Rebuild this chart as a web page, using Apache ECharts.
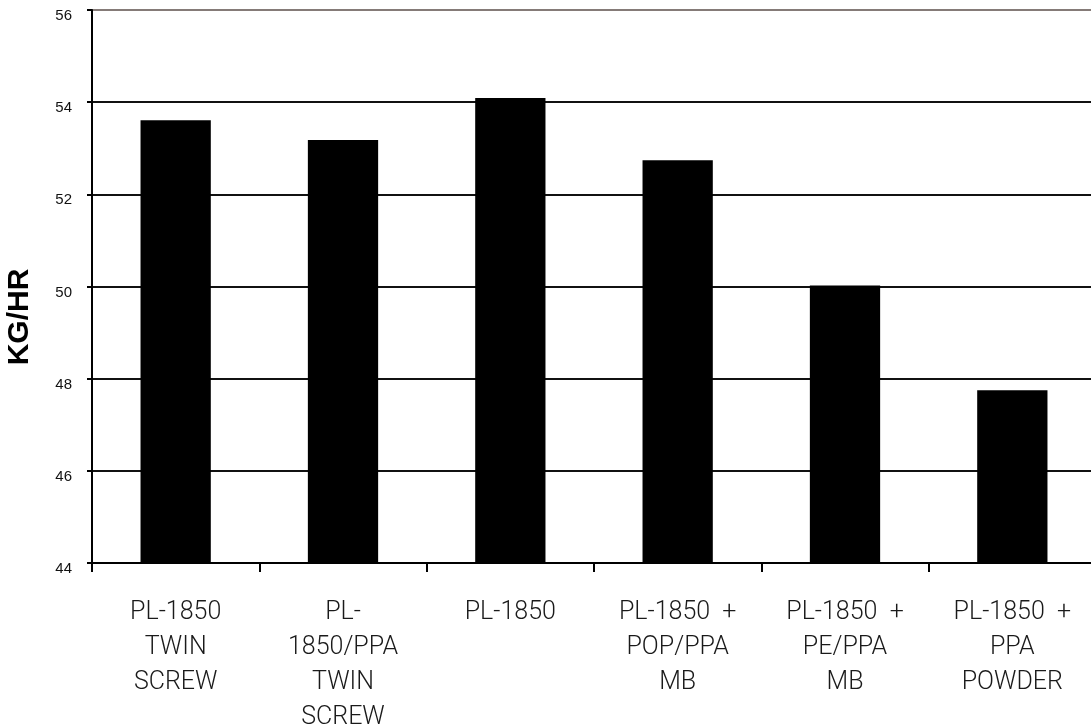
<!DOCTYPE html>
<html>
<head>
<meta charset="utf-8">
<script src="https://cdn.jsdelivr.net/npm/echarts@6/dist/echarts.min.js"></script>
<style>
  html, body { margin: 0; padding: 0; background: #fff; }
  #chart { width: 1091px; height: 728px; }
</style>
</head>
<body>
<div id="chart"></div>
<script>
// 类别 / 数值
var categories = [
    'PL-1850\nTWIN\nSCREW',
    'PL-\n1850/PPA\nTWIN\nSCREW',
    'PL-1850',
    'PL-1850  +\nPOP/PPA\nMB',
    'PL-1850  +\nPE/PPA\nMB',
    'PL-1850  +\nPPA\nPOWDER'
];
var kgPerHr = [53.61, 53.18, 54.09, 52.74, 50.02, 47.75];
var yMin = 44, yMax = 56, yStep = 2;

var chart = echarts.init(document.getElementById('chart'));

var option = {
    animation: false,
    backgroundColor: '#fff',
    grid: {
        left: 92,
        right: -5,
        top: 10,
        bottom: 165,
        outerBoundsMode: 'none'
    },
    graphic: [{
        type: 'text',
        x: 20,
        y: 317,
        rotation: Math.PI / 2,
        style: {
            text: 'KG/HR',
            font: 'bold 30px "Liberation Sans", Arial, sans-serif',
            fill: '#000',
            align: 'center',
            verticalAlign: 'middle'
        }
    }],
    xAxis: {
        type: 'category',
        data: categories,
        axisLine: { lineStyle: { color: '#000', width: 2 } },
        axisTick: { show: true, length: 9, lineStyle: { color: '#000', width: 2 } },
        axisLabel: {
            interval: 0,
            margin: 32,
            color: '#1a1a1a',
            fontFamily: 'Roboto, "Liberation Sans", sans-serif',
            fontWeight: 300,
            fontSize: 25,
            lineHeight: 35
        }
    },
    yAxis: {
        type: 'value',
        min: yMin,
        max: yMax,
        interval: yStep,
        axisLine: { show: true, lineStyle: { color: '#000', width: 2 } },
        axisTick: { show: true, length: 5, lineStyle: { color: '#000', width: 2 } },
        axisLabel: {
            margin: 20,
            color: '#111',
            fontFamily: '"Liberation Sans", Arial, sans-serif',
            fontSize: 15,
            verticalAlign: 'top',
            lineHeight: 12
        },
        splitLine: {
            show: true,
            lineStyle: {
                // 最上面一条是灰色的边框
                color: ['#000', '#111', '#111', '#111', '#111', '#111', '#857b78'],
                width: 2
            }
        }
    },
    series: [{
        type: 'bar',
        data: kgPerHr,
        barWidth: '42%',
        itemStyle: { color: '#000' }
    }]
};

chart.setOption(option);
</script>
</body>
</html>
